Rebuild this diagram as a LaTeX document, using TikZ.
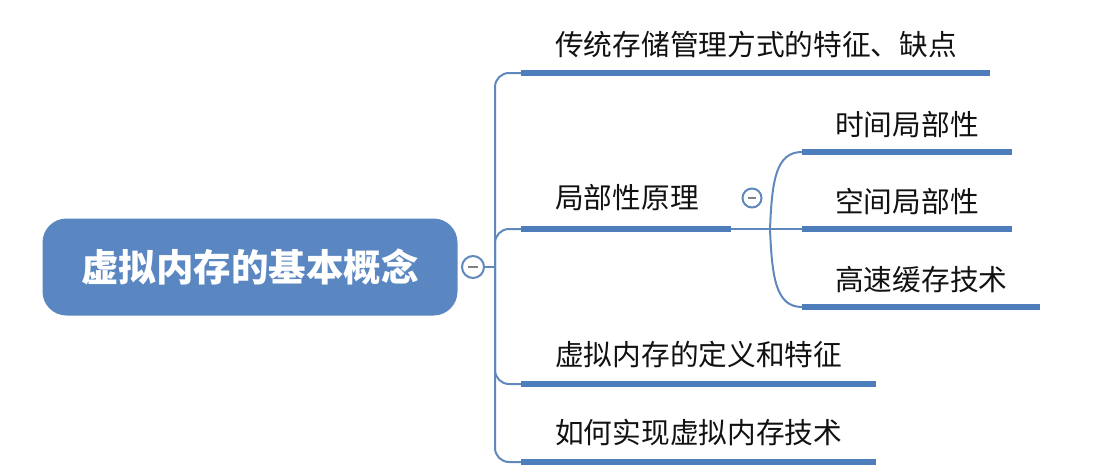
\documentclass[tikz,border=0pt]{standalone}
\usepackage{fontspec}
\newfontfamily\cjk{Noto Sans CJK SC}
\definecolor{rootblue}{HTML}{5A87C1}
\definecolor{barblue}{HTML}{4E7DBB}
\definecolor{lineblue}{HTML}{5F88BC}
\definecolor{ink}{HTML}{111111}
\tikzset{
  topic/.style={anchor=west, inner sep=0pt, font=\cjk\fontsize{28.7}{30}\selectfont, text=ink},
  bar/.style={line width=6pt, draw=barblue},
  link/.style={line width=2pt, draw=lineblue, rounded corners=14pt},
  fold/.style={circle, draw=lineblue, line width=2pt, fill=white, minimum size=22pt, inner sep=0pt}
}
\begin{document}
\begin{tikzpicture}[x=1pt,y=-1pt]
        \useasboundingbox (0,0) rectangle (1117,474);
        \node[fill=rootblue, rounded corners=24pt, minimum width=415pt, minimum height=97pt,
              font=\cjk\bfseries\fontsize{37.5}{40}\selectfont, text=white] (root) at (250,267) {虚拟内存的基本概念};
        \node[fold] (rf) at (473,267) {};
        \draw[gray, line width=2pt] (rf.center) ++(-5,0) -- ++(10,0);
        \coordinate (tk) at (495,267);
        \node[topic] (b1) at (555,45) {传统存储管理方式的特征、缺点};
        \node[topic] (b2) at (555,198) {局部性原理};
        \node[topic] (b3) at (555,355) {虚拟内存的定义和特征};
        \node[topic] (b4) at (555,433) {如何实现虚拟内存技术};
        \coordinate (b1s) at (521,73);  \coordinate (b1e) at (990,73);
        \coordinate (b2s) at (521,229); \coordinate (b2e) at (731,229);
        \coordinate (b3s) at (521,384); \coordinate (b3e) at (876,384);
        \coordinate (b4s) at (521,462); \coordinate (b4e) at (876,462);
        \draw[link] (rf) -- (tk);
        \draw[link] (b1s) -| (tk) |- (b4s);
        \draw[link] (tk) |- (b2s);
        \draw[link] (tk) |- (b3s);
        \draw[bar] (b1s) -- (b1e);
        \draw[bar] (b2s) -- (b2e);
        \draw[bar] (b3s) -- (b3e);
        \draw[bar] (b4s) -- (b4e);
        % subtopics
        \node[fold, minimum size=19pt] (sf) at (752,198) {};
        \draw[gray, line width=2pt] (sf.center) ++(-4,0) -- ++(8,0);
        \coordinate (sj) at (770,229);
        \node[topic] (s1) at (835,125) {时间局部性};
        \node[topic] (s2) at (835,202) {空间局部性};
        \node[topic] (s3) at (835,280) {高速缓存技术};
        \coordinate (s1s) at (802,152); \coordinate (s1e) at (1012,152);
        \coordinate (s2s) at (802,229); \coordinate (s2e) at (1012,229);
        \coordinate (s3s) at (802,307); \coordinate (s3e) at (1040,307);
        \draw[link] (b2e) -- (sj);
        \draw[link] (sj) .. controls (772,180) and (776,152) .. (s1s);
        \draw[link] (sj) -- (s2s);
        \draw[link] (sj) .. controls (772,278) and (776,307) .. (s3s);
        \draw[bar] (s1s) -- (s1e);
        \draw[bar] (s2s) -- (s2e);
        \draw[bar] (s3s) -- (s3e);
      \end{tikzpicture}
\end{document}
